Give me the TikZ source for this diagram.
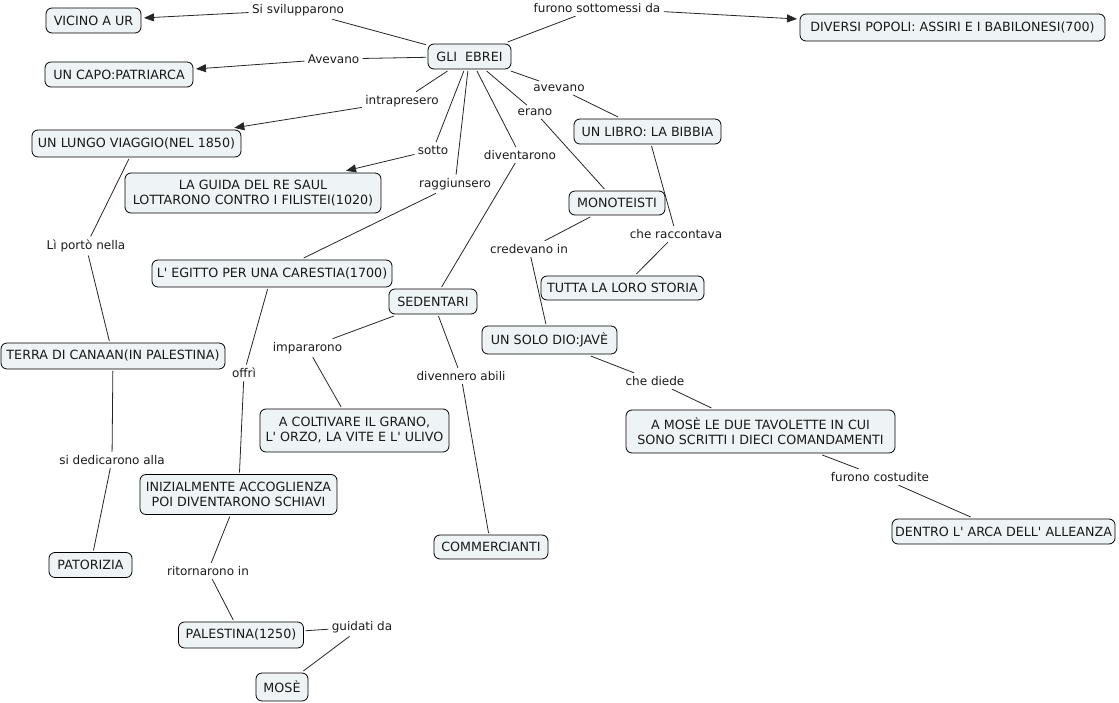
\documentclass[tikz,border=0pt]{standalone}
\usepackage{fontspec}
\setmainfont{DejaVu Sans}
\usetikzlibrary{arrows.meta}
\definecolor{cfill}{HTML}{EEF3F5}
\definecolor{ctext}{HTML}{1A1A1A}
\newcommand\ap{\textquotesingle}
\begin{document}
\begin{tikzpicture}[x=1pt,y=-1pt,
  concept/.style={draw=black, line width=0.8pt, fill=cfill, rounded corners=6pt,
    align=center, font=\fontsize{12.7}{15}\selectfont, inner xsep=3pt, inner ysep=3pt,
    outer sep=2pt, text=ctext},
  lbl/.style={font=\fontsize{12}{15}\selectfont, inner sep=2pt, outer sep=1.5pt, text=ctext},
  conn/.style={line width=0.8pt, draw=black!85},
  arr/.style={conn, -{Triangle[length=10pt,width=8pt]}, shorten >=1pt}]
\path[use as bounding box] (0,0) rectangle (1119,703);

% concepts
\node[concept, minimum width=95pt, minimum height=25pt] (vicino) at (93.5,20.5) {VICINO A UR};
\node[concept, minimum width=148pt, minimum height=25pt] (capo) at (119,74.5) {UN CAPO:PATRIARCA};
\node[concept, minimum width=209pt, minimum height=27pt] (viaggio) at (136.5,143.5) {UN LUNGO VIAGGIO(NEL 1850)};
\node[concept, minimum width=256pt, minimum height=40pt] (saul) at (253,193) {LA GUIDA DEL RE SAUL\\LOTTARONO CONTRO I FILISTEI(1020)};
\node[concept, minimum width=83pt, minimum height=25pt] (ebrei) at (469.5,56.5) {GLI\ \ EBREI};
\node[concept, minimum width=305pt, minimum height=27pt] (diversi) at (952.5,27.5) {DIVERSI POPOLI: ASSIRI E I BABILONESI(700)};
\node[concept, minimum width=147pt, minimum height=25pt] (bibbia) at (647.5,131.5) {UN LIBRO: LA BIBBIA};
\node[concept, minimum width=96pt, minimum height=24pt] (mono) at (617,203) {MONOTEISTI};
\node[concept, minimum width=163pt, minimum height=24pt] (storia) at (622.5,288) {TUTTA LA LORO STORIA};
\node[concept, minimum width=240pt, minimum height=27pt] (egitto) at (272,273.5) {L\ap{} EGITTO PER UNA CARESTIA(1700)};
\node[concept, minimum width=88pt, minimum height=25pt] (sedentari) at (433,301.5) {SEDENTARI};
\node[concept, minimum width=135pt, minimum height=28pt] (dio) at (549.5,340) {UN SOLO DIO:JAVÈ};
\node[concept, minimum width=224pt, minimum height=26pt] (canaan) at (113,356) {TERRA DI CANAAN(IN PALESTINA)};
\node[concept, minimum width=189pt, minimum height=43pt] (grano) at (354.5,430.5) {A COLTIVARE IL GRANO,\\L\ap{} ORZO, LA VITE E L\ap{} ULIVO};
\node[concept, minimum width=269pt, minimum height=43pt] (tavolette) at (760.5,431.5) {A MOSÈ LE DUE TAVOLETTE IN CUI\\SONO SCRITTI I DIECI COMANDAMENTI};
\node[concept, minimum width=223pt, minimum height=25pt] (dentro) at (1003.5,531.5) {DENTRO L\ap{} ARCA DELL\ap{} ALLEANZA};
\node[concept, minimum width=197pt, minimum height=40pt] (iniz) at (238.5,494.5) {INIZIALMENTE ACCOGLIENZA\\POI DIVENTARONO SCHIAVI};
\node[concept, minimum width=83pt, minimum height=25pt] (patorizia) at (90.5,565) {PATORIZIA};
\node[concept, minimum width=114pt, minimum height=24pt] (commercianti) at (491,547) {COMMERCIANTI};
\node[concept, minimum width=125pt, minimum height=26pt] (palestina) at (241,635) {PALESTINA(1250)};
\node[concept, minimum width=52pt, minimum height=28pt] (mose) at (282,687) {MOSÈ};

% linking phrases
\node[lbl] (l1) at (298,10) {Si svilupparono};
\node[lbl] (l2) at (333.5,59) {Avevano};
\node[lbl] (l3) at (402,101) {intrapresero};
\node[lbl] (l4) at (433,150) {sotto};
\node[lbl] (l5) at (455,184) {raggiunsero};
\node[lbl] (l6) at (520,155) {diventarono};
\node[lbl] (l7) at (535,112) {erano};
\node[lbl] (l8) at (559,88) {avevano};
\node[lbl] (l9) at (597,8) {furono sottomessi da};
\node[lbl] (l10) at (529,249) {credevano in};
\node[lbl] (l11) at (676,234) {che raccontava};
\node[lbl] (l12) at (86,246) {Lì portò nella};
\node[lbl] (l13) at (244,373) {offrì};
\node[lbl] (l14) at (307.5,348) {impararono};
\node[lbl] (l15) at (461,376) {divennero abili};
\node[lbl] (l16) at (655,381) {che diede};
\node[lbl] (l17) at (880,477) {furono costudite};
\node[lbl] (l18) at (112,460) {si dedicarono alla};
\node[lbl] (l19) at (208,571) {ritornarono in};
\node[lbl] (l20) at (362,627) {guidati da};

% connectors
\draw[conn] (ebrei) -- (l1); \draw[arr] (l1) -- (vicino);
\draw[conn] (ebrei) -- (l2); \draw[arr] (l2) -- (capo);
\draw[conn] (ebrei) -- (l3); \draw[arr] (l3) -- (viaggio);
\draw[conn] (ebrei) -- (l4); \draw[arr] (l4) -- (saul);
\draw[conn] (ebrei) -- (l5); \draw[conn] (l5) -- (egitto);
\draw[conn] (ebrei) -- (l6); \draw[conn] (l6) -- (sedentari);
\draw[conn] (ebrei) -- (l7); \draw[conn] (l7) -- (mono);
\draw[conn] (ebrei) -- (l8); \draw[conn] (l8) -- (bibbia);
\draw[conn] (ebrei) -- (l9); \draw[arr] (l9) -- (diversi);
\draw[conn] (mono) -- (l10); \draw[conn] (l10) -- (dio);
\draw[conn] (bibbia) -- (l11); \draw[conn] (l11) -- (storia);
\draw[conn] (viaggio) -- (l12); \draw[conn] (l12) -- (canaan);
\draw[conn] (egitto) -- (l13); \draw[conn] (l13) -- (iniz);
\draw[conn] (sedentari) -- (l14); \draw[conn] (l14) -- (grano);
\draw[conn] (sedentari) -- (l15); \draw[conn] (l15) -- (commercianti);
\draw[conn] (dio) -- (l16); \draw[conn] (l16) -- (tavolette);
\draw[conn] (tavolette) -- (l17); \draw[conn] (l17) -- (dentro);
\draw[conn] (canaan) -- (l18); \draw[conn] (l18) -- (patorizia);
\draw[conn] (iniz) -- (l19); \draw[conn] (l19) -- (palestina);
\draw[conn] (palestina) -- (l20); \draw[conn] (l20) -- (mose);
\end{tikzpicture}
\end{document}
